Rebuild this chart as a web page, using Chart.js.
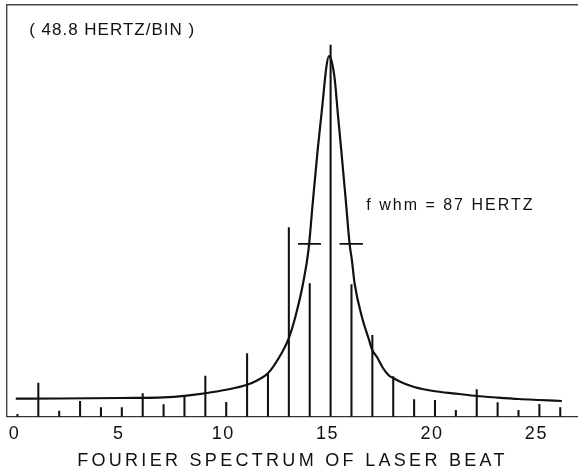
<!DOCTYPE html>
<html><head><meta charset="utf-8">
<script src="https://cdn.jsdelivr.net/npm/chart.js@4/dist/chart.umd.min.js"></script>
<style>html,body{margin:0;padding:0;background:#fff;}#wrap{width:578px;height:473px;}</style>
</head><body><div id="wrap"><canvas id="c" width="578" height="473"></canvas></div>
<script>
// Fourier bins (48.8 Hz per bin) and measured amplitudes (arbitrary units)
const bins = [0,1,2,3,4,5,6,7,8,9,10,11,12,13,14,15,16,17,18,19,20,21,22,23,24,25,26];
const binHeights = [2.5,33.8,5.8,15.5,9.2,9.2,23.2,12.2,21.5,40.8,14.5,63.2,43.5,189.2,133,371.5,132.2,81.5,40.3,17.2,16.5,6.5,27.2,14.2,6.5,12.5,9.2];
// Fitted line-shape curve
const curveX = [-0.08,2,5,7,8,9,10,11,11.5,12.0,12.51,12.99,13.31,13.68,13.94,14.15,14.38,14.6,14.8,14.92,15.04,15.2,15.35,15.51,15.72,15.91,16.02,16.15,16.5,16.82,17.0,17.22,17.5,17.78,17.99,18.5,19,20,21,22,23,24,25,26.08];
const curveY = [18.2,18.3,18.8,19.5,21,23.5,27,32,36.5,43.5,58.5,78.2,99.8,133.2,166.5,215,266.5,310,350,360.5,356,337,302,266.5,218,172.8,156.5,133.2,99.8,78.2,66.5,59.8,49,41.5,38.8,33.5,29.8,25.5,23.2,20.8,19.2,17.8,16.8,15.8];
// Half-maximum markers
const halfMaxLevel = 172.8;
const halfMarkLeft = [13.44, 14.54];
const halfMarkRight = [15.43, 16.55];
// Axis
const xTickValues = [0,5,10,15,20,25];
const xTitle = 'FOURIER SPECTRUM OF LASER BEAT';
// Notes
const binNote = '( 48.8 HERTZ/BIN )';
const binNotePos = [0.56, 386];
const fwhmNote = 'f whm = 87 HERTZ';
const fwhmNotePos = [16.71, 211.5];

const FONT = '"Liberation Sans", Arial, sans-serif';
const INK = '#111';

const notes = {
  id: 'notes',
  beforeDraw(chart) {
    const s = chart.scales.x;
    if (!s._wrappedTitle) {
      const orig = s.drawTitle.bind(s);
      s.drawTitle = function () {
        const c = this.ctx; const prev = c.letterSpacing;
        c.letterSpacing = '3.3px'; orig(); c.letterSpacing = prev;
      };
      s._wrappedTitle = true;
    }
    chart.ctx.letterSpacing = '1.5px';
  },
  afterDatasetsDraw(chart) {
    const {ctx, scales: {x, y}} = chart;
    ctx.save();
    ctx.fillStyle = INK;
    ctx.textAlign = 'left';
    ctx.textBaseline = 'middle';
    ctx.letterSpacing = '1px';
    ctx.font = '17px ' + FONT;
    ctx.fillText(binNote, x.getPixelForValue(binNotePos[0]), y.getPixelForValue(binNotePos[1]));
    ctx.letterSpacing = '2px';
    ctx.font = '16px ' + FONT;
    ctx.fillText(fwhmNote, x.getPixelForValue(fwhmNotePos[0]), y.getPixelForValue(fwhmNotePos[1]));
    ctx.restore();
  }
};

const lineDs = (xs, ys, w) => ({
  type: 'line',
  data: xs.map((v, i) => ({x: v, y: Array.isArray(ys) ? ys[i] : ys})),
  borderColor: INK, borderWidth: w, pointRadius: 0, fill: false,
  cubicInterpolationMode: 'monotone', order: 1
});

new Chart(document.getElementById('c'), {
  type: 'bar',
  data: {
    datasets: [
      {
        type: 'bar',
        data: bins.map((b, i) => ({x: b, y: binHeights[i]})),
        backgroundColor: INK, borderWidth: 0, barThickness: 1.4, order: 3
      },
      lineDs(curveX, curveY, 2.2),
      lineDs(halfMarkLeft, halfMaxLevel, 1.6),
      lineDs(halfMarkRight, halfMaxLevel, 1.6)
    ]
  },
  options: {
    responsive: false, animation: false, devicePixelRatio: 1,
    layout: {padding: {left: 7, top: 5, right: 0, bottom: 0}},
    plugins: {legend: {display: false}, tooltip: {enabled: false}},
    scales: {
      x: {
        type: 'linear', min: -0.5, max: 26.85, offset: false,
        grid: {display: false, drawTicks: false, offset: false},
        border: {display: true, color: '#333', width: 1.3},
        afterBuildTicks: s => { s.ticks = xTickValues.map(v => ({value: v})); },
        ticks: {color: INK, font: {family: FONT, size: 18}, padding: 6, maxRotation: 0, autoSkip: false, labelOffset: -3},
        title: {display: true, text: xTitle, color: INK, font: {family: FONT, size: 18}, padding: {top: 0, bottom: 1}}
      },
      xTop: {
        type: 'linear', position: 'top', min: -0.5, max: 26.85, offset: false,
        grid: {display: false, drawTicks: false, offset: false},
        ticks: {display: false},
        border: {display: true, color: '#444', width: 1.4}
      },
      y: {
        min: 0, max: 411.5,
        grid: {display: false, drawTicks: false},
        ticks: {display: false},
        border: {display: true, color: '#444', width: 1.4}
      }
    }
  },
  plugins: [notes]
});
</script></body></html>
